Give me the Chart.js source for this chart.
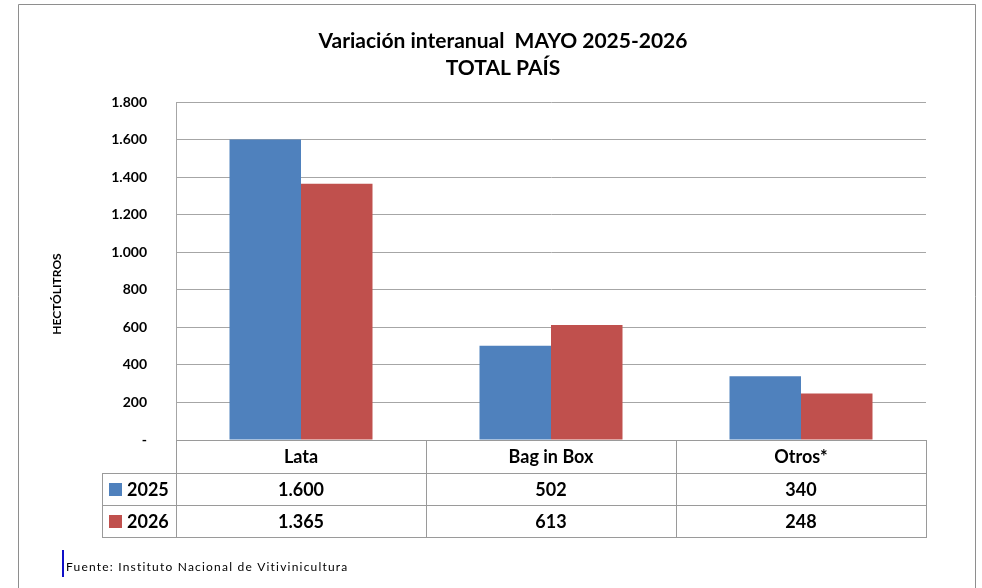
<!DOCTYPE html>
<html>
<head>
<meta charset="utf-8">
<script src="https://cdn.jsdelivr.net/npm/chart.js@4"></script>
<style>
  html, body { margin: 0; padding: 0; background: #fff; }
  #wrap { position: relative; width: 982px; height: 588px; }
</style>
</head>
<body>
<div id="wrap"><canvas id="chart" width="982" height="588"></canvas></div>
<script>
const categories = ['Lata', 'Bag in Box', 'Otros*'];
const seriesNames = ['2025', '2026'];
const values2025 = [1600, 502, 340];
const values2026 = [1365, 613, 248];
const yMax = 1800;
const yStep = 200;

const colors = ['#4F81BD', '#C0504D'];
const FONT = 'Lato, "Open Sans", sans-serif';

function fmt(n) {
  if (n === 0) return '-';
  return String(n).replace(/\B(?=(\d{3})+(?!\d))/g, '.');
}

// frame, titles, data table and source note
const decorations = {
  id: 'decorations',
  beforeDraw(chart) {
    const ctx = chart.ctx;
    ctx.save();
    ctx.fillStyle = '#fff';
    ctx.fillRect(0, 0, chart.width, chart.height);
    ctx.strokeStyle = '#8e8e8e';
    ctx.lineWidth = 1;
    ctx.beginPath();
    ctx.moveTo(18.5, 588);
    ctx.lineTo(18.5, 4.5);
    ctx.lineTo(975.5, 4.5);
    ctx.lineTo(975.5, 588);
    ctx.stroke();
    ctx.restore();
  },
  afterDraw(chart) {
    const ctx = chart.ctx;
    const x = chart.scales.x;
    const area = chart.chartArea;
    ctx.save();

    // title
    ctx.fillStyle = '#000';
    ctx.textAlign = 'center';
    ctx.textBaseline = 'middle';
    ctx.font = 'bold 21px ' + FONT;
    ctx.fillText('Variación interanual  MAYO 2025-2026', 503, 41);
    ctx.fillText('TOTAL PAÍS', 503, 68);

    // y axis title
    ctx.save();
    ctx.translate(57, 294);
    ctx.rotate(-Math.PI / 2);
    ctx.font = 'bold 12px ' + FONT;
    ctx.fillText('HECTÓLITROS', 0, 0);
    ctx.restore();

    // data table
    const top = area.bottom;
    const rowH = [33, 32, 32];
    const rowY = [top, top + rowH[0], top + rowH[0] + rowH[1], top + rowH[0] + rowH[1] + rowH[2]];
    const half = (x.getPixelForValue(1) - x.getPixelForValue(0)) / 2;
    const left = x.getPixelForValue(0) - half;
    const right = x.getPixelForValue(categories.length - 1) + half;
    const legendLeft = 102;

    ctx.strokeStyle = '#9a9a9a';
    ctx.lineWidth = 1;
    ctx.beginPath();
    ctx.moveTo(left, Math.round(rowY[0]) + 0.5);
    ctx.lineTo(right, Math.round(rowY[0]) + 0.5);
    for (let r = 1; r < rowY.length; r++) {
      ctx.moveTo(legendLeft, Math.round(rowY[r]) + 0.5);
      ctx.lineTo(right, Math.round(rowY[r]) + 0.5);
    }
    ctx.moveTo(legendLeft + 0.5, Math.round(rowY[1]));
    ctx.lineTo(legendLeft + 0.5, Math.round(rowY[3]) + 1);
    for (let i = 0; i <= categories.length; i++) {
      const cx = Math.round(left + i * half * 2) + 0.5;
      ctx.moveTo(cx, Math.round(rowY[0]));
      ctx.lineTo(cx, Math.round(rowY[3]) + 1);
    }
    ctx.stroke();

    ctx.fillStyle = '#000';
    ctx.font = 'bold 18px ' + FONT;
    categories.forEach((c, i) => {
      ctx.fillText(c, x.getPixelForValue(i), (rowY[0] + rowY[1]) / 2 + 1);
    });
    const rows = [values2025, values2026];
    rows.forEach((vals, r) => {
      const cy = (rowY[r + 1] + rowY[r + 2]) / 2 + 1;
      vals.forEach((v, i) => {
        ctx.fillText(fmt(v), x.getPixelForValue(i), cy);
      });
      ctx.fillStyle = colors[r];
      ctx.fillRect(109, cy - 7, 13, 13);
      ctx.fillStyle = '#000';
      ctx.textAlign = 'left';
      ctx.fillText(seriesNames[r], 127, cy);
      ctx.textAlign = 'center';
    });

    // source note
    ctx.strokeStyle = '#1010c8';
    ctx.lineWidth = 2;
    ctx.beginPath();
    ctx.moveTo(63, 550);
    ctx.lineTo(63, 577);
    ctx.stroke();
    ctx.fillStyle = '#000';
    ctx.textAlign = 'left';
    ctx.font = '12px ' + FONT;
    ctx.letterSpacing = '1.2px';
    ctx.fillText('Fuente: Instituto Nacional de Vitivinicultura', 66, 567);

    ctx.restore();
  }
};

new Chart(document.getElementById('chart'), {
  type: 'bar',
  data: {
    labels: categories,
    datasets: [
      { label: seriesNames[0], data: values2025, backgroundColor: colors[0] },
      { label: seriesNames[1], data: values2026, backgroundColor: colors[1] }
    ]
  },
  options: {
    responsive: false,
    animation: false,
    layout: { padding: { left: 0, right: 56, top: 102, bottom: 148 } },
    datasets: { bar: { barPercentage: 1, categoryPercentage: 0.572 } },
    plugins: {
      legend: { display: false },
      title: { display: false },
      tooltip: { enabled: false }
    },
    scales: {
      x: { display: false },
      y: {
        min: 0,
        max: yMax,
        afterFit(axis) { axis.width = 176; },
        ticks: {
          stepSize: yStep,
          padding: 29,
          color: '#000',
          font: { family: FONT, size: 14, weight: 'bold' },
          callback: v => fmt(v)
        },
        grid: { color: '#a6a6a6', drawTicks: false },
        border: { display: true, color: '#a6a6a6' }
      }
    }
  },
  plugins: [decorations]
});
</script>
</body>
</html>
